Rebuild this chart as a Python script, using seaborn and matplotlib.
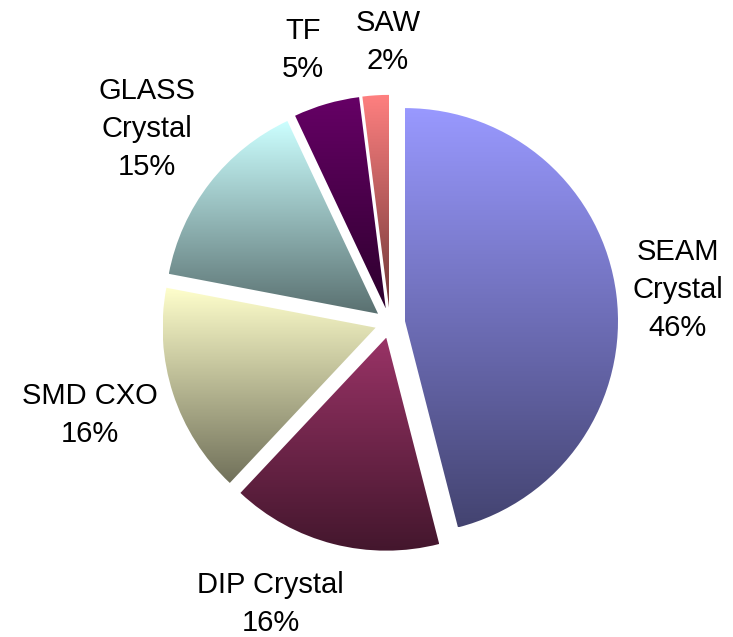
import numpy as np
import matplotlib
matplotlib.use("Agg")
import matplotlib.pyplot as plt
import seaborn as sns
from matplotlib.colors import LinearSegmentedColormap

# data
segments = ["SEAM\nCrystal", "DIP Crystal", "SMD CXO", "GLASS\nCrystal", "TF", "SAW"]
shares = [46, 16, 16, 15, 5, 2]
top_colors = ["#9999ff", "#993366", "#ffffcc", "#ccffff", "#660066", "#ff8080"]

# label anchors (data units, pie radius = 1)
label_pos = [(1.35, 0.155), (-0.56, -1.32), (-1.41, -0.43), (-1.14, 0.91), (-0.41, 1.28), (-0.01, 1.32)]

sns.set_theme(style="white")
plt.rcParams["font.family"] = ["Liberation Sans", "DejaVu Sans"]

W, H, dpi = 733, 637, 100
R = 213.0          # pie radius in pixels
cx, cy = 390, 323  # pie centre in pixels (from top-left)

fig = plt.figure(figsize=(W / dpi, H / dpi), dpi=dpi)
ax = fig.add_axes([0, 0, 1, 1])

wedges, _ = ax.pie(shares, startangle=90, counterclock=False, radius=1,
                   explode=[0.071] * len(shares),
                   wedgeprops=dict(linewidth=0))

ax.set_aspect("equal")
ax.axis("off")

# vertical gradient inside each slice, light on top, dark at the bottom
grad = np.linspace(0, 1, 256).reshape(-1, 1)
for w, c in zip(wedges, top_colors):
    top = np.array(matplotlib.colors.to_rgb(c))
    bottom = top * 0.44
    cmap = LinearSegmentedColormap.from_list("g", [bottom, top])
    ext = w.get_path().get_extents(w.get_patch_transform())
    w.set_facecolor("none")
    im = ax.imshow(grad, cmap=cmap, origin="lower", aspect="auto",
                   extent=(ext.x0, ext.x1, ext.y0, ext.y1), zorder=1)
    im.set_clip_path(w)

ax.set_xlim(-cx / R, (W - cx) / R)
ax.set_ylim(-(H - cy) / R, cy / R)

for name, pct, (x, y) in zip(segments, shares, label_pos):
    ax.text(x, y, f"{name}\n{pct}%", ha="center", va="center",
            fontsize=21, linespacing=1.45, color="black")

fig.savefig("out.png", dpi=dpi, facecolor="white")
